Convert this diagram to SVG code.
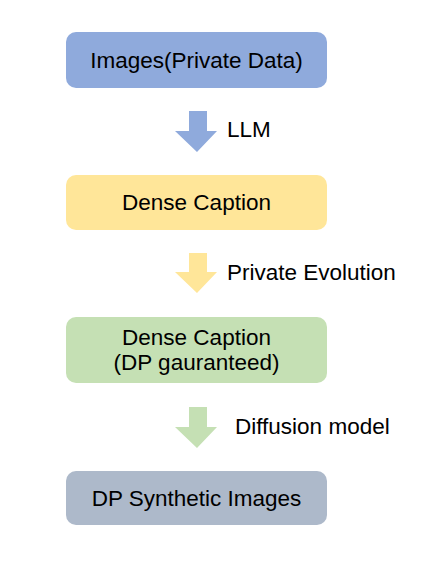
<svg xmlns="http://www.w3.org/2000/svg" width="433" height="576" viewBox="0 0 433 576">
<style>
text{font-family:"Liberation Sans",Arial,sans-serif;font-size:22.5px;fill:#000}
.c{text-anchor:middle}
</style>
<rect width="433" height="576" fill="#fff"/>
<g id="connectors">
<path d="M189,111H207V131H217L197,152L175,131H189Z" fill="#8faadc"/>
<text x="227" y="137">LLM</text>
<path d="M189,253H207V272H217L197,293L175,272H189Z" fill="#ffe699"/>
<text x="227" y="280">Private Evolution</text>
<path d="M189,407H207V427H217L197,448L175,427H189Z" fill="#c5e0b4"/>
<text x="235" y="434">Diffusion model</text>
</g>
<g id="n1"><rect x="66" y="32" width="261" height="56" rx="10" fill="#8faadc"/><text class="c" x="196.5" y="68">Images(Private Data)</text></g>
<g id="n2"><rect x="66" y="175" width="261" height="55" rx="10" fill="#ffe699"/><text class="c" x="196.5" y="210">Dense Caption</text></g>
<g id="n3"><rect x="66" y="317" width="261" height="66" rx="10" fill="#c5e0b4"/><text class="c" x="196.5" y="345">Dense Caption</text><text class="c" x="196.5" y="370">(DP gauranteed)</text></g>
<g id="n4"><rect x="66" y="471" width="261" height="54" rx="10" fill="#adb9ca"/><text class="c" x="196.5" y="506">DP Synthetic Images</text></g>
</svg>
